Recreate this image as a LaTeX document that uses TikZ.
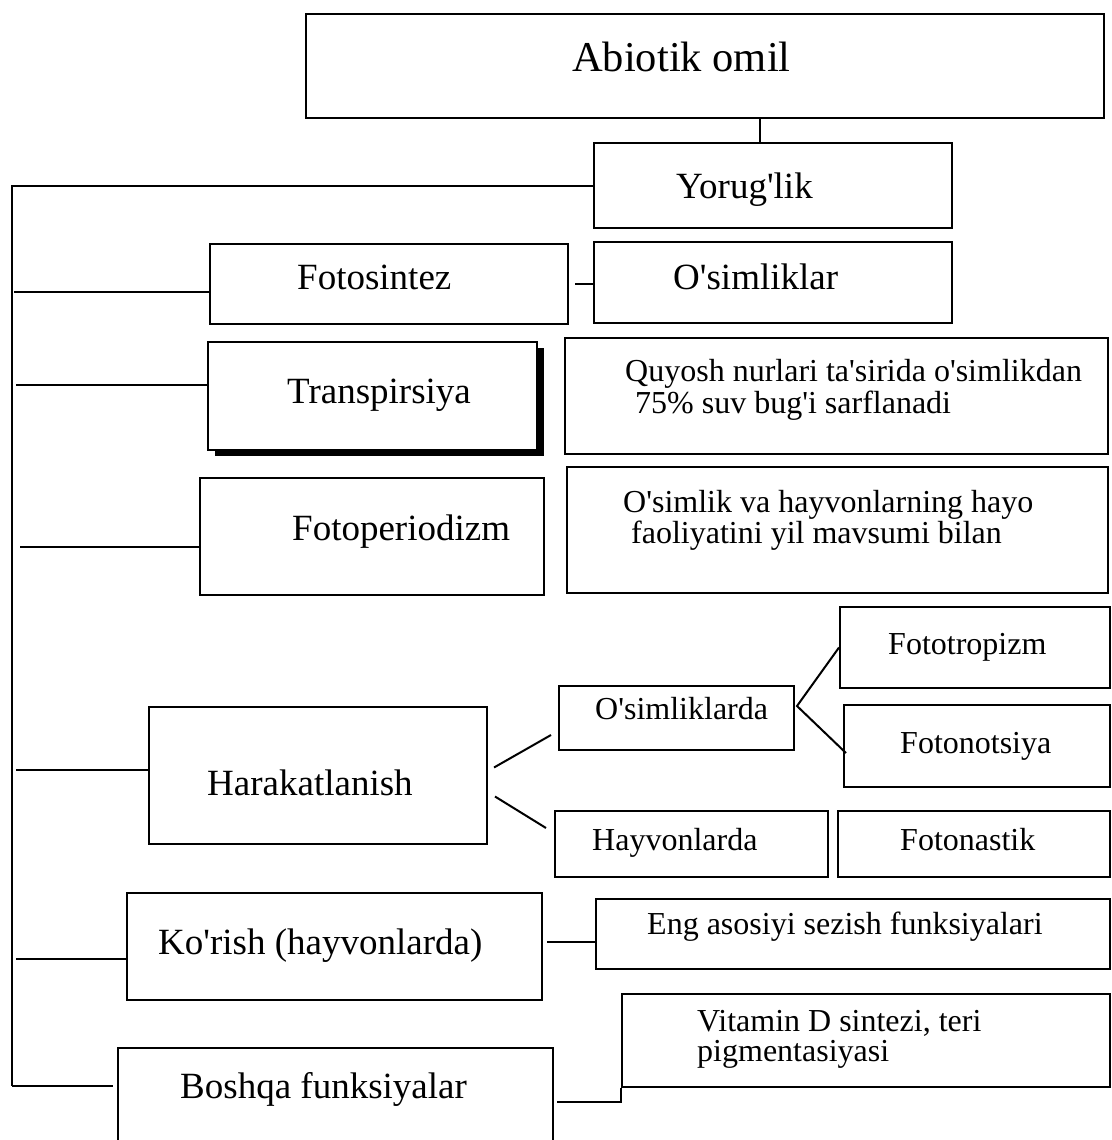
\documentclass[tikz,border=0pt]{standalone}
\usepackage{fontspec}
\newfontfamily\df{Liberation Serif}[Ligatures=TeXOff]
\usetikzlibrary{calc,fit,shadows}

\begin{document}
\begin{tikzpicture}[x=1pt,y=-1pt,
  box/.style={draw, line width=2pt, inner sep=0pt, fill=white},
  lbl/.style={inner sep=0pt, anchor=base west, font=\df\fontsize{37}{37}\selectfont},
  small/.style={lbl, font=\df\fontsize{32}{32}\selectfont},
  big/.style={lbl, font=\df\fontsize{42.5}{42.5}\selectfont},
  link/.style={line width=2pt}]
\useasboundingbox (0,0) rectangle (1111,1140);
\clip (0,0) rectangle (1111,1140);

% boxes
\node[box, fit={(306,14) (1104,118)}] (abio) {};
\node[box, fit={(594,143) (952,228)}] (yor) {};
\node[box, fit={(210,244) (568,324)}] (fotos) {};
\node[box, fit={(594,242) (952,323)}] (osim) {};
\node[box, fit={(208,342) (537,450)},
      drop shadow={shadow xshift=7pt, shadow yshift=-6pt, opacity=1, fill=black}] (trans) {};
\node[box, fit={(565,338) (1108,454)}] (quy) {};
\node[box, fit={(200,478) (544,595)}] (fper) {};
\node[box, fit={(567,467) (1108,593)}] (ovh) {};
\node[box, fit={(840,607) (1110,688)}] (fotr) {};
\node[box, fit={(559,686) (794,750)}] (osl) {};
\node[box, fit={(844,705) (1110,787)}] (fotn) {};
\node[box, fit={(149,707) (487,844)}] (hara) {};
\node[box, fit={(555,811) (828,877)}] (hayv) {};
\node[box, fit={(838,811) (1110,877)}] (fnas) {};
\node[box, fit={(127,893) (542,1000)}] (kor) {};
\node[box, fit={(596,899) (1110,969)}] (eng) {};
\node[box, fit={(622,994) (1110,1087)}] (vit) {};
\node[box, fit={(118,1048) (553,1170)}] (bosh) {};

% texts
\node[big] (tabio) at (572,71) {Abiotik omil};
\node[lbl] (tyor) at (676,198) {Yorug'lik};
\node[lbl] (tfotos) at (297,289) {Fotosintez};
\node[lbl] (tosim) at (673,289) {O'simliklar};
\node[lbl] (ttrans) at (287,403) {Transpirsiya};
\node[small] (tquyA) at (625,381) {Quyosh nurlari ta'sirida o'simlikdan};
\node[small] (tquyB) at (635,413) {75\% suv bug'i sarflanadi};
\node[lbl] (tfper) at (292,540) {Fotoperiodizm};
\node[small] (tovhA) at (623,512) {O'simlik va hayvonlarning hayo};
\node[small] (tovhB) at (631,543) {faoliyatini yil mavsumi bilan};
\node[small] (tfotr) at (888,654) {Fototropizm};
\node[small] (tosl) at (595,719) {O'simliklarda};
\node[small] (tfotn) at (900,753) {Fotonotsiya};
\node[lbl] (thara) at (207,795) {Harakatlanish};
\node[small] (thayv) at (592,850) {Hayvonlarda};
\node[small] (tfnas) at (900,850) {Fotonastik};
\node[lbl] (tkor) at (158,954) {Ko'rish (hayvonlarda)};
\node[small] (teng) at (647,934) {Eng asosiyi sezish funksiyalari};
\node[small] (tvitA) at (697,1031) {Vitamin D sintezi, teri};
\node[small] (tvitB) at (697,1061) {pigmentasiyasi};
\node[lbl] (tbosh) at (180,1098) {Boshqa funksiyalar};

% connectors
\coordinate (tb) at (12,1086);
\coordinate (c1) at (14,292);
\coordinate (c2) at (16,385);
\coordinate (c3) at (20,547);
\coordinate (c4) at (16,770);
\coordinate (c5) at (16,959);
\coordinate (c6) at (760,130);
\coordinate (c7) at (557,1102);
\coordinate (j) at ($(osl.east)+(2,-12)$);

\draw[link] (c6 |- abio.south) -- (c6 |- yor.north);
\draw[link] (yor.west) -| (tb);
\draw[link] (tb) -- ($(tb -| bosh.west)+(-4,0)$);
\draw[link] (c1) -- (c1 -| fotos.west);
\draw[link] (c2) -- (c2 -| trans.west);
\draw[link] (c3) -- (c3 -| fper.west);
\draw[link] (c4) -- (c4 -| hara.west);
\draw[link] (c5) -- (c5 -| kor.west);
\draw[link] ($(fotos.east)+(6,0)$) -- (fotos.east -| osim.west);
\draw[link] ($(hara.east)+(6,-8)$) -- ($(osl.west)+(-7,17)$);
\draw[link] ($(hara.east)+(7,21)$) -- ($(hayv.west)+(-8,-16)$);
\draw[link] (fotr.west) -- (j) -- ($(fotn.west)+(3,7)$);
\draw[link] ($(kor.east)+(4,-4.5)$) -- ($(eng.west)+(0,8)$);
\draw[link] (c7) -- (c7 -| vit.west) -- (vit.south west);
\end{tikzpicture}
\end{document}
